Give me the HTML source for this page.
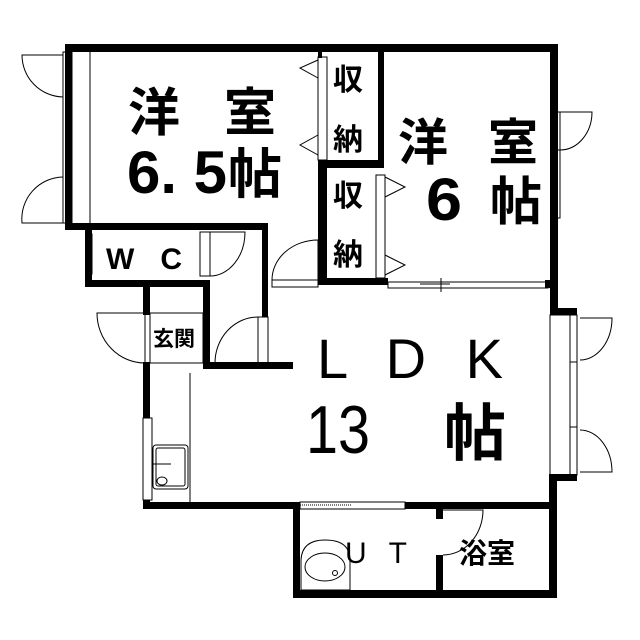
<!DOCTYPE html>
<html><head><meta charset="utf-8"><style>
html,body{margin:0;padding:0;background:#fff}
svg{display:block}
text{font-family:"Liberation Sans","Noto Sans CJK JP",sans-serif;fill:#000}
.k{font-family:"Noto Sans CJK JP",sans-serif;font-weight:bold}
</style></head><body>
<svg width="640" height="640" viewBox="0 0 640 640" xmlns="http://www.w3.org/2000/svg">
<rect width="640" height="640" fill="#fff"/>
<g fill="#000">
<rect x="65" y="44" width="493" height="8"/>
<rect x="65" y="44" width="7" height="186"/>
<rect x="550" y="44" width="8" height="270"/>
<rect x="550" y="308" width="27" height="7"/>
<rect x="549" y="474" width="28" height="7"/>
<rect x="549" y="474" width="8" height="124"/>
<rect x="65" y="223" width="203" height="7"/>
<rect x="262" y="223" width="6" height="64"/>
<rect x="85" y="223" width="7" height="64"/>
<rect x="85" y="280" width="125" height="7"/>
<rect x="143" y="280" width="7" height="35"/>
<rect x="203" y="280" width="7" height="87"/>
<rect x="143" y="362" width="7" height="8"/>
<rect x="203" y="362" width="90" height="7"/>
<rect x="262" y="287" width="6" height="30"/>
<rect x="143" y="366" width="7" height="52"/>
<rect x="143" y="500" width="7" height="9"/>
<rect x="143" y="502" width="157" height="7"/>
<rect x="293" y="502" width="7" height="96"/>
<rect x="293" y="590" width="264" height="8"/>
<rect x="405" y="502" width="152" height="7"/>
<rect x="436" y="509" width="7" height="10"/>
<rect x="436" y="555" width="7" height="35"/>
<rect x="378" y="44" width="6" height="124"/>
<rect x="318" y="160" width="66" height="8"/>
<rect x="318" y="160" width="9" height="125"/>
<rect x="318" y="278" width="70" height="7"/>
<rect x="318" y="44" width="4" height="14"/>
<rect x="545" y="280" width="10" height="8"/>
</g>
<g fill="none" stroke="#000" stroke-width="1">
<rect x="63" y="52" width="9" height="171"/>
<line x1="90" y1="52" x2="90" y2="223"/>
<line x1="68" y1="100" x2="68" y2="175"/>
<path d="M63 55 L22 55 A42 42 0 0 0 63 97"/>
<path d="M63 223 L22 223 A42 42 0 0 1 63 177"/>
<rect x="318" y="57" width="9" height="103"/>
<path d="M318 60 L300 68 L318 78"/>
<path d="M318 135 L300 145 L318 155"/>
<rect x="376" y="175" width="9" height="103"/>
<path d="M385 177 L405 187 L385 197"/>
<path d="M385 255 L405 265 L385 275"/>
<rect x="388" y="282" width="160" height="6"/>
<line x1="420" y1="284" x2="450" y2="284"/>
<line x1="441" y1="278" x2="441" y2="292"/>
<rect x="552" y="112" width="8" height="106"/>
<rect x="552" y="112" width="8" height="38"/>
<path d="M560 112 L592 112 A32 38 0 0 1 560 150"/>
<rect x="272" y="280" width="46" height="7"/>
<path d="M318 280 L318 240 A46 40 0 0 0 272 280"/>
<rect x="86" y="234" width="6" height="40"/>
<rect x="200" y="232" width="10" height="44"/>
<path d="M210 232 L245 232 A35 44 0 0 1 210 276"/>
<rect x="145" y="313" width="5" height="50"/>
<path d="M145 313 L97 313 A48 50 0 0 0 145 363"/>
<rect x="150" y="313" width="53" height="50"/>
<rect x="258" y="317" width="10" height="46"/>
<path d="M258 363 L215 363 A43 46 0 0 1 258 317"/>
<rect x="550" y="315" width="27" height="160"/>
<rect x="570" y="315" width="7" height="160"/>
<line x1="570" y1="362" x2="577" y2="362"/>
<line x1="570" y1="427" x2="577" y2="427"/>
<path d="M580 318 L612 318 A32 42 0 0 1 580 360"/>
<path d="M580 472 L612 472 A32 42 0 0 0 580 430"/>
<line x1="190" y1="373" x2="190" y2="502"/>
<rect x="143" y="418" width="9" height="82"/>
<rect x="153" y="445" width="35" height="44" rx="3"/>
<rect x="156" y="448" width="29" height="38" rx="2"/>
<line x1="153" y1="464" x2="171" y2="464"/>
<ellipse cx="162" cy="481" rx="5" ry="4"/>
<rect x="300" y="502" width="105" height="7"/>
<line x1="300" y1="505" x2="352" y2="505" stroke-dasharray="1 1"/>
<path d="M443 510 L483 510 A40 45 0 0 1 443 555"/>
<path d="M301 590 L301 560 Q302 540 325 540 Q350 540 350 560 L350 590 Z"/>
<ellipse cx="325" cy="567" rx="20" ry="14"/>
<circle cx="335" cy="573" r="2.5"/>
</g>
<text class="k" x="128" y="131" font-size="52">洋</text>
<text class="k" x="224" y="131" font-size="52">室</text>
<text x="127" y="193" font-size="60" font-weight="bold" textLength="100" lengthAdjust="spacingAndGlyphs">6. 5</text>
<text class="k" x="228" y="193" font-size="54">帖</text>
<text class="k" x="333" y="90" font-size="30">収</text>
<text class="k" x="333" y="150" font-size="30">納</text>
<text class="k" x="333" y="206" font-size="30">収</text>
<text class="k" x="333" y="265" font-size="30">納</text>
<text class="k" x="398" y="160" font-size="50">洋</text>
<text class="k" x="488" y="160" font-size="50">室</text>
<text x="426" y="220" font-size="60" font-weight="bold" textLength="36" lengthAdjust="spacingAndGlyphs">6</text>
<text class="k" x="490" y="220" font-size="52">帖</text>
<text x="106" y="269" font-size="30" font-weight="bold" textLength="76" lengthAdjust="spacing">W C</text>
<text class="k" x="153" y="346" font-size="21">玄関</text>
<text x="317" y="378" font-size="56" textLength="186" lengthAdjust="spacing">L D K</text>
<text x="306" y="453" font-size="68" textLength="64" lengthAdjust="spacingAndGlyphs">13</text>
<text class="k" x="444" y="455" font-size="62">帖</text>
<text x="345" y="563" font-size="30" textLength="62" lengthAdjust="spacing">U T</text>
<text class="k" x="459" y="563" font-size="28">浴室</text>
</svg>
</body></html>
